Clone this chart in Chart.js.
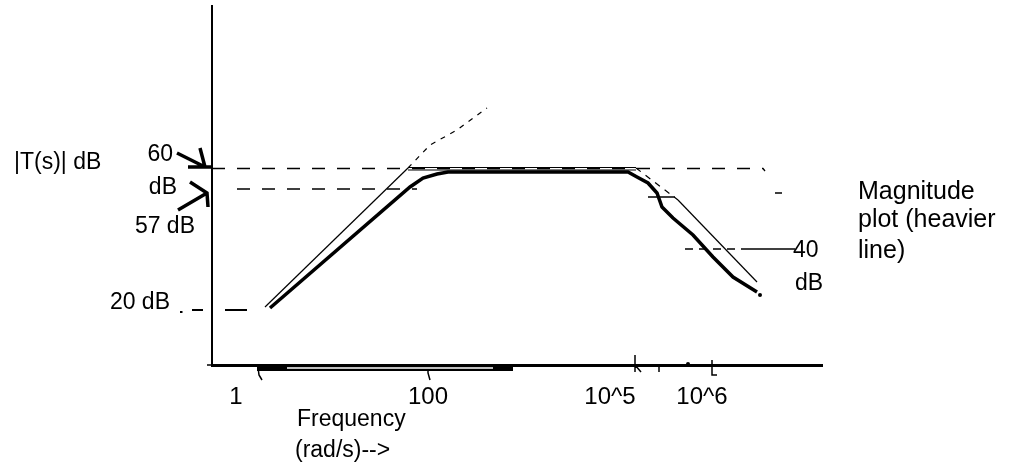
<!DOCTYPE html>
<html lang="en">
<head>
<meta charset="UTF-8">
<title>Magnitude plot</title>
<script src="https://cdn.jsdelivr.net/npm/chart.js"></script>
<style>
    body { margin: 0; background: #fff; }
    .wrap { position: relative; width: 1010px; height: 467px; }
</style>
</head>
<body>
<div class="wrap"><canvas id="bode"></canvas></div>
<script>
    // sketch units: x = distance along the frequency axis, y = height above it
    const tickPos = [24, 216, 398, 490];
    const tickText = ['1', '100', '10^5', '10^6'];

    // heavy line = the magnitude plot
    const magX = [58, 198, 211, 225, 236, 416, 425, 436, 445, 450, 461, 481, 501, 521, 545];
    const magY = [57, 178, 187, 191, 193, 193, 188, 182, 172, 158, 147, 130, 108, 88, 73];

    // thin straight-line asymptotes
    const riseX = [53, 196], riseY = [58, 197];
    const riseExtX = [196, 218, 245, 275], riseExtY = [197, 220, 235, 257];
    const flatX = [196, 424], flatTopY = [197.5, 197.5], flatLowY = [195, 195];
    const fallDashX = [424, 466], fallDashY = [197, 165];
    const fallX = [466, 545], fallY = [165, 83];
    const endDotX = [548, 476], endDotY = [70, 1];

    // level marks (60, 57, 40, 20 dB)
    const lvl60X = [0, 551, 553], lvl60Y = [196.5, 196.5, 194];
    const lvl57X = [25, 205], lvl57Y = [176, 176];
    const lvl57bX = [436, 463, null, 563, 570], lvl57bY = [168, 168, null, 172, 172];
    const lvl40DashX = [473, 530], lvl40DashY = [116, 116];
    const lvl40X = [530, 583], lvl40Y = [116, 116];
    const lvl20X = [-32, -29.5, null, -20, -9, null, 13, 35], lvl20Y = [53, 53, null, 55, 55, null, 55, 55];

    // hand arrows pointing at the axis
    const arrow60X = [-35, -7, null, -12, -7, null, -24, 0];
    const arrow60Y = [212, 198, null, 217, 198, null, 198, 198];
    const arrow57X = [-34, -5, null, -22, -5, -4];
    const arrow57Y = [155, 172, null, 183, 172, 158];

    // scribbled tick marks and the heavy part of the axis
    const markX = [46, 47, 50, null, 216, 216, 218, null, 423, 423, null, 423, 429, null, 447, 447, null, 500, 500, 505, null, -5, 0];
    const markY = [-2, -10, -15, null, -2, -8, -15, null, 10, -7, null, 0, -7, null, -2, -7, null, 5, -10, -10, null, 0, 0];
    const bandX = [45, 301], bandY = [-2.5, -2.5];
    const slotX = [75, 281], slotY = [-3, -3];

    const font = '"Liberation Sans", Arial, sans-serif';
    const notes = [
        { t: '|T(s)| dB', x: -110, y: 202, align: 'left', size: 23, shift: -88 },
        { t: '60', x: -39, y: 210, align: 'right', size: 23 },
        { t: 'dB', x: -35, y: 177, align: 'right', size: 23 },
        { t: '57 dB', x: -17, y: 138, align: 'right', size: 23 },
        { t: '20 dB', x: -42, y: 62, align: 'right', size: 23 },
        { t: '40', x: 581, y: 114, align: 'left', size: 23 },
        { t: 'dB', x: 583, y: 81, align: 'left', size: 23 },
        { t: 'Magnitude', x: 646, y: 173, align: 'left', size: 25 },
        { t: 'plot (heavier', x: 646, y: 145, align: 'left', size: 25 },
        { t: 'line)', x: 646, y: 114, align: 'left', size: 25 },
        { t: 'Frequency', x: 85, y: -55, align: 'left', size: 23 },
        { t: '(rad/s)-->', x: 83, y: -86, align: 'left', size: 23 }
    ];

    function line(xs, ys, width, extra) {
        return Object.assign({
            data: xs.map((v, i) => ({ x: v, y: ys[i] })),
            showLine: true,
            borderColor: '#000',
            borderWidth: width,
            pointRadius: 0,
            clip: false,
            spanGaps: false,
            tension: 0
        }, extra || {});
    }

    const sketchText = {
        id: 'sketchText',
        afterDraw(chart) {
            const { ctx, scales: { x, y } } = chart;
            ctx.save();
            ctx.fillStyle = '#000';
            ctx.textBaseline = 'middle';
            notes.forEach(n => {
                ctx.font = n.size + 'px ' + font;
                ctx.textAlign = n.align;
                let px = x.getPixelForValue(n.x);
                if (n.shift) px += n.shift;
                ctx.fillText(n.t, px, y.getPixelForValue(n.y));
            });
            ctx.restore();
        }
    };

    new Chart(document.getElementById('bode'), {
        type: 'scatter',
        data: {
            datasets: [
                line(magX, magY, 3.5),
                line(slotX, slotY, 1.5, { borderColor: '#fff' }),
                line(bandX, bandY, 7),
                line(endDotX, endDotY, 0, { showLine: false, pointRadius: 2, pointBackgroundColor: '#000', pointBorderColor: '#000', pointBorderWidth: 0 }),
                line(riseX, riseY, 1.2),
                line(riseExtX, riseExtY, 1.2, { borderDash: [5, 6] }),
                line(flatX, flatTopY, 1.2),
                line(flatX, flatLowY, 1.2),
                line(fallDashX, fallDashY, 1.2, { borderDash: [6, 6] }),
                line(fallX, fallY, 1.2),
                line(lvl60X, lvl60Y, 1.3, { borderDash: [13, 12] }),
                line(lvl57X, lvl57Y, 1.3, { borderDash: [13, 12] }),
                line(lvl57bX, lvl57bY, 1.3),
                line(lvl40DashX, lvl40DashY, 1.3, { borderDash: [8, 6] }),
                line(lvl40X, lvl40Y, 1.3),
                line(lvl20X, lvl20Y, 1.8),
                line(arrow60X, arrow60Y, 3.5),
                line(arrow57X, arrow57Y, 3.5),
                line(markX, markY, 1.5)
            ]
        },
        options: {
            responsive: true,
            maintainAspectRatio: false,
            animation: false,
            events: [],
            layout: { padding: { top: 6, right: 188, left: 0, bottom: 0 } },
            plugins: { legend: { display: false }, tooltip: { enabled: false } },
            scales: {
                x: {
                    type: 'linear',
                    min: 0,
                    max: 610,
                    grid: { display: false, drawTicks: false },
                    border: { display: true, color: '#000', width: 3 },
                    afterFit(s) { s.height = 102; },
                    afterBuildTicks(s) { s.ticks = tickPos.map(v => ({ value: v })); },
                    ticks: {
                        padding: 18,
                        color: '#000',
                        font: { family: font, size: 24 },
                        maxRotation: 0,
                        autoSkip: false,
                        callback: v => tickText[tickPos.indexOf(v)]
                    }
                },
                y: {
                    type: 'linear',
                    min: 0,
                    max: 359,
                    grid: { display: false, drawTicks: false },
                    border: { display: true, color: '#000', width: 2 },
                    ticks: { display: false },
                    afterFit(s) { s.width = 212; }
                }
            }
        },
        plugins: [sketchText]
    });
</script>
</body>
</html>
